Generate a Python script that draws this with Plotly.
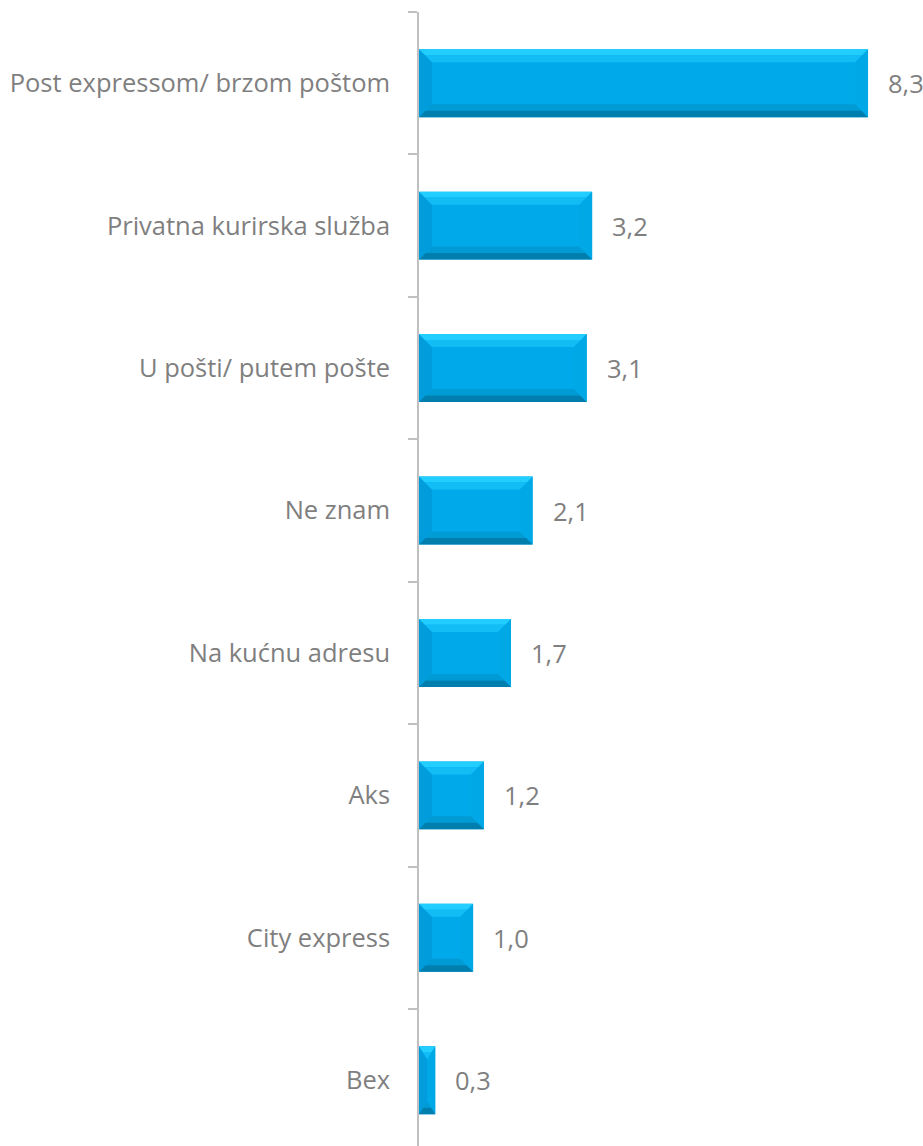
import plotly.graph_objects as go

categories = ["Post expressom/ brzom poštom", "Privatna kurirska služba", "U pošti/ putem pošte",
              "Ne znam", "Na kućnu adresu", "Aks", "City express", "Bex"]
values = [8.3, 3.2, 3.1, 2.1, 1.7, 1.2, 1.0, 0.3]

W, H = 923, 1146
ML, MT = 419, 12
PX_PER_UNIT = 54.1
CAT_PX = 142.43
x_max = (W - ML) / PX_PER_UNIT
y_bottom = -0.5 + (H - MT) / CAT_PX

BAR_W = 0.477
BEV_PX = 13
by = BEV_PX / CAT_PX
bx_full = BEV_PX / PX_PER_UNIT

pos = list(range(len(categories)))

fig = go.Figure()

fig.add_trace(go.Bar(
    x=values, y=pos, orientation="h", width=BAR_W,
    marker=dict(color="#00AAEA", line=dict(width=0)),
    hoverinfo="skip", showlegend=False,
))


def face(side, t0, t1):
    xs, ys = [], []
    for c, v in zip(pos, values):
        x0, x1 = 0.0, v
        yt, yb = c - BAR_W / 2, c + BAR_W / 2
        bx = min(bx_full, v / 2)
        byy = min(by, BAR_W / 2)
        def pt(t, which):
            if which == "tl":
                return (x0 + bx * t, yt + byy * t)
            if which == "tr":
                return (x1 - bx * t, yt + byy * t)
            if which == "bl":
                return (x0 + bx * t, yb - byy * t)
            return (x1 - bx * t, yb - byy * t)
        if side == "top":
            a, b = "tl", "tr"
        elif side == "bottom":
            a, b = "bl", "br"
        elif side == "left":
            a, b = "tl", "bl"
        else:
            a, b = "tr", "br"
        poly = [pt(t0, a), pt(t0, b), pt(t1, b), pt(t1, a), pt(t0, a)]
        for px, py in poly:
            xs.append(px)
            ys.append(py)
        xs.append(None)
        ys.append(None)
    return xs, ys


faces = [
    ("left", 0, 1, "#009CDB"),
    ("right", 0, 1, "#00A8E6"),
    ("top", 0, 0.45, "#22CEFF"),
    ("top", 0.45, 1, "#12BDF6"),
    ("bottom", 0.5, 1, "#009BD4"),
    ("bottom", 0, 0.5, "#007EAD"),
]
for side, t0, t1, col in faces:
    xs, ys = face(side, t0, t1)
    fig.add_trace(go.Scatter(
        x=xs, y=ys, mode="lines", fill="toself", fillcolor=col,
        line=dict(width=0, color=col), hoverinfo="skip", showlegend=False,
    ))

for c, v in zip(pos, values):
    fig.add_annotation(
        x=v, y=c, text=f"{v:.1f}".replace(".", ","), showarrow=False,
        xanchor="left", xshift=18, font=dict(family="Open Sans", size=25.5, color="#7F7F7F"),
    )

fig.update_layout(
    width=W, height=H,
    margin=dict(l=ML, r=0, t=MT, b=0),
    plot_bgcolor="white", paper_bgcolor="white",
    barmode="overlay",
    font=dict(family="Open Sans", size=25.5, color="#7F7F7F"),
    xaxis=dict(range=[0, x_max], showgrid=False, zeroline=False, showticklabels=False,
               showline=False, ticks=""),
    yaxis=dict(range=[y_bottom, -0.5], tickmode="array", tickvals=pos, ticktext=categories,
               showgrid=False, zeroline=False, showline=True, linecolor="#C0C0C0", linewidth=1.5,
               ticks="", ticklabelstandoff=22,
               minor=dict(tickmode="linear", tick0=-0.5, dtick=1, ticks="outside", ticklen=9,
                          tickcolor="#C0C0C0", tickwidth=1.5, showgrid=False)),
)

fig.write_html("out.html", config={"displayModeBar": False},
               post_script="document.body.style.margin='0';document.body.style.overflow='hidden';")
